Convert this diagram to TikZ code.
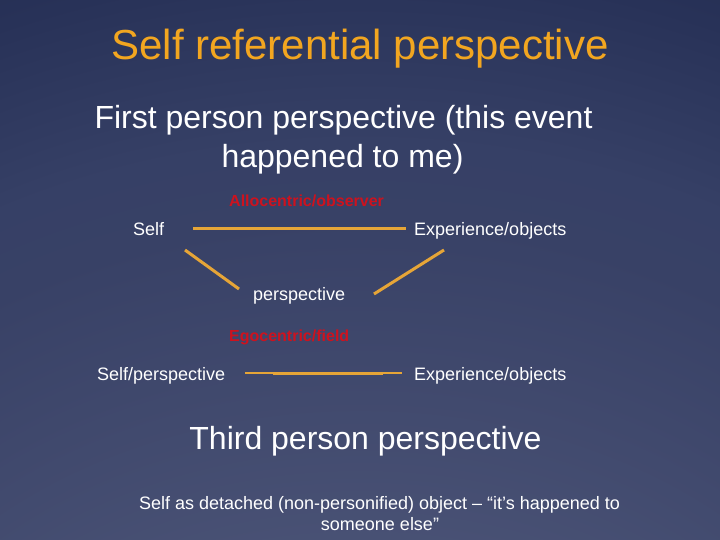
\documentclass[tikz,border=0pt]{standalone}
\usepackage{fontspec}
\setmainfont{Liberation Sans}
\usepackage{tikz}
\usetikzlibrary{positioning}

\definecolor{titleorange}{RGB}{242,166,32}
\definecolor{lineorange}{RGB}{230,165,55}
\definecolor{labelred}{RGB}{205,18,30}

\pgfdeclareradialshading{slidebg}{\pgfpoint{0bp}{-80bp}}{%
  rgb(0bp)=(0.369,0.4,0.533);
  rgb(17bp)=(0.337,0.369,0.502);
  rgb(47bp)=(0.22,0.255,0.4);
  rgb(51bp)=(0.212,0.251,0.4);
  rgb(60bp)=(0.157,0.196,0.345);
  rgb(72bp)=(0.11,0.145,0.278);
  rgb(100bp)=(0.102,0.137,0.267)}

\begin{document}
\begin{tikzpicture}[x=1pt, y=-1pt,
  every node/.style={inner sep=0pt, text=white},
  titletext/.style={anchor=base, text=titleorange, font=\fontsize{42}{48}\selectfont},
  headtext/.style={anchor=base, font=\fontsize{32}{39}\selectfont},
  plaintext/.style={font=\fontsize{18}{21}\selectfont},
  redtext/.style={anchor=base west, text=labelred, font=\fontsize{16}{19}\selectfont\bfseries},
  link/.style={draw=lineorange, line width=3pt},
  thinlink/.style={draw=lineorange, line width=1.5pt}]

  \useasboundingbox (0pt,0pt) rectangle (720pt,-540pt);
  \shade[shading=slidebg] (0pt,0pt) rectangle (720pt,-540pt);

  % headings
  \node[titletext] (title) at (360, 60) {Self referential perspective};
  \node[headtext] (first) at (343.5, 129) {First person perspective (this event};
  \node[headtext] (firstb) at (342.5, 168) {happened to me)};

  % allocentric triangle
  \node[redtext] (allo) at (229, 207) {Allocentric/observer};
  \node[plaintext, anchor=base west] (self) at (133, 236) {Self};
  \node[plaintext, anchor=base west] (expa) at (414, 236) {Experience/objects};
  \node[plaintext, anchor=base west] (persp) at (253, 300) {perspective};

  \coordinate (topL) at (193, 229);
  \coordinate (topR) at (406, 229);
  \coordinate (leftA) at (185, 250);
  \coordinate (leftB) at (239, 289);
  \coordinate (rightA) at (444, 250);
  \coordinate (rightB) at (374, 294);

  \draw[link] (topL) -- (topR);
  \draw[link] (leftA) -- (leftB);
  \draw[link] (rightA) -- (rightB);

  % egocentric line
  \node[redtext] (ego) at (229, 341) {Egocentric/field};
  \node[plaintext, anchor=base west] (selfp) at (97, 380) {Self/perspective};
  \node[plaintext, anchor=base west] (expb) at (414, 380) {Experience/objects};

  \coordinate (botL) at (245, 373);
  \coordinate (botR) at (402, 373);
  \coordinate (botl) at (273, 373);
  \coordinate (botr) at (383, 373);

  \draw[thinlink] (botL) -- (botR);
  \draw[link] (botl) -- (botr);

  % third person
  \node[headtext] (third) at (365.5, 449) {Third person perspective};
  \node[plaintext, anchor=base] (note) at (379.5, 509) {Self as detached (non-personified) object – “it’s happened to};
  \node[plaintext, anchor=base] (noteb) at (380, 530) {someone else”};

\end{tikzpicture}
\end{document}
